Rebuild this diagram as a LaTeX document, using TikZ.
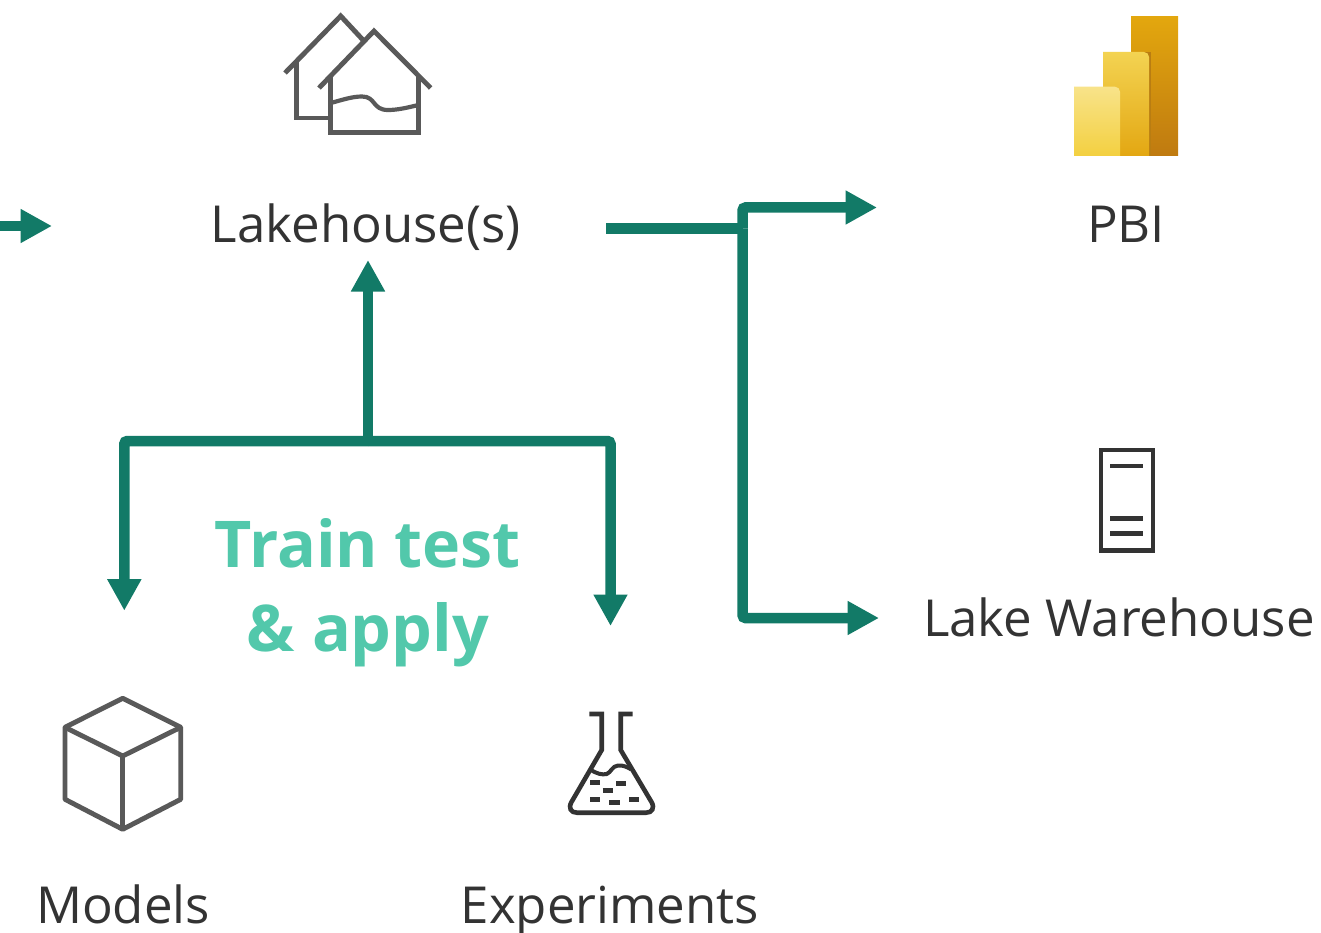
\documentclass[tikz,border=0pt]{standalone}
\usepackage{fontspec}
\setmainfont{Open Sans}
\usetikzlibrary{arrows.meta}
\definecolor{flow}{HTML}{127A67}
\definecolor{mint}{HTML}{52C8AB}
\definecolor{icon}{HTML}{595959}
\definecolor{ink}{HTML}{333333}
\definecolor{pbiA}{HTML}{E3A70E}
\definecolor{pbiB}{HTML}{BF7A10}
\definecolor{pbiC}{HTML}{F3D352}
\definecolor{pbiD}{HTML}{E3A712}
\definecolor{pbiE}{HTML}{F8E38A}
\definecolor{pbiF}{HTML}{F3D040}
\definecolor{pbiS}{HTML}{B97D12}
\tikzset{
  flowline/.style={draw=flow,line width=10.5pt,rounded corners=3pt},
  flowarrow/.style={flowline,-{Triangle[length=31.5pt,width=32pt]}},
  iconline/.style={draw=icon,line width=4.9pt,line join=miter},
  inkline/.style={draw=ink,line width=4.6pt},
  label/.style={anchor=base,text=ink,font=\fontsize{51}{55}\selectfont,inner sep=0pt},
  trainlabel/.style={anchor=base,text=mint,font=\fontsize{64.5}{68}\selectfont\bfseries,inner sep=0pt}
}
\begin{document}
\begin{tikzpicture}[x=1pt,y=-1pt]
\useasboundingbox (0,0) rectangle (1321,933);
% labels
\node[label] (lake) at (366,243) {Lakehouse(s)};
\node[label] (pbi) at (1126,243) {PBI};
\node[label] (wh) at (1119,636) {Lake Warehouse};
\node[label] (models) at (123,923.5) {Models};
\node[label] (exp) at (610,923.5) {Experiments};
\node[trainlabel] (train) at (368,567.5) {Train test};
\node[trainlabel] (apply) at (368,651.5) {\& apply};
% connector anchors
\coordinate (inS) at (0,226);
\coordinate (inE) at (52,226);
\coordinate (outS) at (606,228.3);
\coordinate (bus) at (742.5,228.3);
\coordinate (pbiIn) at (877,207.5);
\coordinate (whIn) at (879,618);
\coordinate (hub) at (368,441);
\coordinate (lakeIn) at (368,260);
\coordinate (modelsIn) at (124.3,610.7);
\coordinate (expIn) at (610.5,626);
% connectors
\draw[flowarrow] (inS) -- (inE);
\draw[flowline,rounded corners=0pt] (outS) -- (bus);
\draw[flowarrow] (bus) |- (pbiIn);
\draw[flowarrow] (bus) |- (whIn);
\draw[flowarrow] (hub) -- (lakeIn);
\draw[flowarrow] (hub) -| (modelsIn);
\draw[flowarrow] (hub) -| (expIn);
% lakehouse icon
\draw[iconline] (285,73) -- (340.7,16) -- (363,40);
\draw[iconline] (296.7,62) -- (296.7,118) -- (330,118);
\draw[iconline] (319,88) -- (374,31) -- (430.7,88);
\draw[iconline] (330.7,77) -- (330.7,132.7) -- (418.3,132.7) -- (418.3,77);
\draw[iconline,line width=4.2pt] (330.7,103) .. controls (342,100) and (352,96.5) .. (362,96.5)
  .. controls (376,96.5) and (372,110) .. (388,110) .. controls (398,110) and (408,107.5) .. (418.3,105);
% PBI icon
\shade[shading angle=150,top color=pbiA,bottom color=pbiB] (1131,17) rectangle (1178,156);
\fill[pbiS] (1103,52) rectangle (1150.5,156);
\shade[shading angle=150,top color=pbiC,bottom color=pbiD]
  (1103,156) -- (1103,52) -- (1144,52) arc[start angle=90,end angle=0,radius=5pt] -- (1149,156) -- cycle;
\shade[shading angle=150,top color=pbiE,bottom color=pbiF]
  (1074,156) -- (1074,86.7) -- (1115,86.7) arc[start angle=90,end angle=0,radius=5pt] -- (1120,156) -- cycle;
% warehouse icon
\draw[inkline] (1101,450) rectangle (1153,550.7);
\draw[inkline] (1110,466) -- (1143.3,466);
\draw[inkline] (1110,518.7) -- (1143.3,518.7);
\draw[inkline] (1110,533.7) -- (1143.3,533.7);
% flask icon
\draw[inkline] (589.3,714) -- (601.7,714) -- (601.7,750) -- (571.5,802)
  .. controls (568,808) and (571,812.7) .. (577,812.7) -- (646,812.7)
  .. controls (652,812.7) and (655,808) .. (651.5,802) -- (620.7,750) -- (620.7,714) -- (632.7,714);
\draw[inkline,line width=4pt] (590,769.3) .. controls (597,774) and (602,775) .. (606.7,774)
  .. controls (611,772.5) and (612,766) .. (618,765.5) .. controls (623,765) and (627,767) .. (631,769.3);
\foreach \xa/\xb/\yy in {590/600/782.3,616/626/783.7,602.7/613.3/790.3,590/600/799.7,609.3/620/802.7,629/639/799.7}
  \draw[inkline] (\xa,\yy) -- (\xb,\yy);
% cube icon
\draw[iconline,line join=round] (122.7,698.3) -- (180.7,727.3) -- (180.7,799.3) -- (122.7,829.3) -- (65,799.3) -- (65,727.3) -- cycle;
\draw[iconline,line join=round] (65,727.3) -- (122.7,756) -- (180.7,727.3);
\draw[iconline] (122.7,756) -- (122.7,829.3);
\end{tikzpicture}
\end{document}
